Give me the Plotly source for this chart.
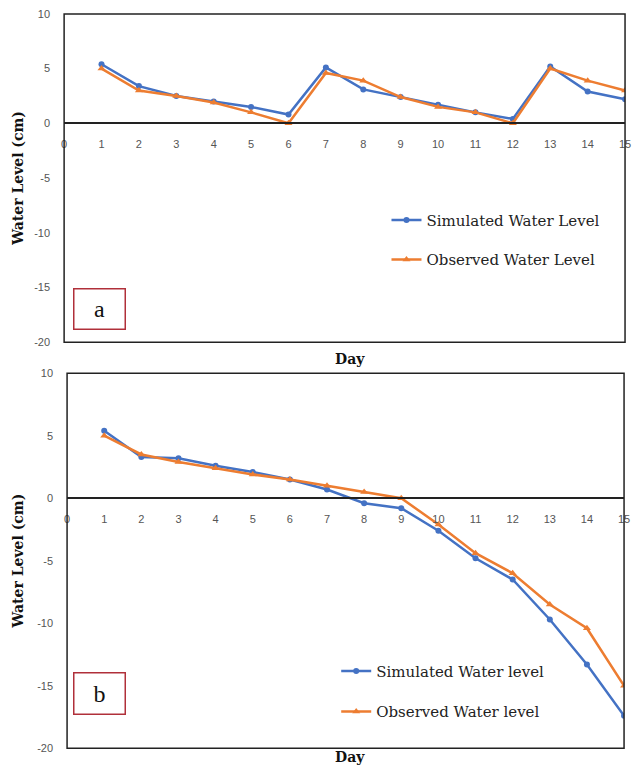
import plotly.graph_objects as go

days = list(range(1, 16))

sim_a = [5.4, 3.4, 2.5, 2.0, 1.5, 0.8, 5.1, 3.1, 2.4, 1.7, 1.0, 0.4, 5.2, 2.9, 2.2]
obs_a = [5.0, 3.0, 2.5, 1.9, 1.0, 0.0, 4.6, 3.9, 2.4, 1.5, 1.0, 0.0, 5.0, 3.9, 3.0]

sim_b = [5.4, 3.3, 3.2, 2.6, 2.1, 1.5, 0.7, -0.4, -0.8, -2.6, -4.8, -6.5, -9.7, -13.3, -17.4]
obs_b = [5.0, 3.5, 2.9, 2.4, 1.9, 1.5, 1.0, 0.5, 0.0, -2.1, -4.4, -6.0, -8.5, -10.4, -15.0]

names_a = ["Simulated Water Level", "Observed Water Level"]
names_b = ["Simulated Water level", "Observed Water level"]

x_ticks = list(range(0, 16))
y_ticks = [-20, -15, -10, -5, 0, 5, 10]

W, H = 634, 770
BLUE = "#4472C4"
ORANGE = "#ED7D31"
SERIF = "DejaVu Serif"
LSERIF = "Liberation Serif"
SANS = "Liberation Sans"


def px_x(p):
    return p / W


def px_y(p):
    return 1 - p / H


fig = go.Figure()

panels = [
    dict(x0=62, x1=631, y0=8, y1=341.5, xa="x", ya="y", sim=sim_a, obs=obs_a,
         names=names_a, legend="legend", letter="a", box=(72, 124, 287, 328), day=359),
    dict(x0=65, x1=630, y0=373, y1=754, xa="x2", ya="y2", sim=sim_b, obs=obs_b,
         names=names_b, legend="legend2", letter="b", box=(72, 124, 677, 719), day=763),
]

ymin, ymax = -20, 10

for i, p in enumerate(panels):
    fig.add_trace(go.Scatter(
        x=days, y=p["sim"], name=p["names"][0], mode="lines+markers",
        line=dict(color=BLUE, width=2.5), marker=dict(symbol="circle", size=6, color=BLUE),
        xaxis=p["xa"], yaxis=p["ya"], legend=p["legend"], legendgroup=f"s{i}"))
    fig.add_trace(go.Scatter(
        x=days, y=p["obs"], name=p["names"][1], mode="lines+markers",
        line=dict(color=ORANGE, width=2.5), marker=dict(symbol="triangle-up", size=7, color=ORANGE),
        xaxis=p["xa"], yaxis=p["ya"], legend=p["legend"], legendgroup=f"o{i}"))

layout = dict(
    width=W, height=H, margin=dict(l=0, r=0, t=0, b=0),
    paper_bgcolor="white", plot_bgcolor="white", showlegend=True,
)

shapes = []
annotations = []
for i, p in enumerate(panels):
    sfx = "" if i == 0 else "2"
    xd = [px_x(p["x0"]), px_x(p["x1"])]
    yd = [px_y(p["y1"]), px_y(p["y0"])]
    zero_pos = yd[0] + (0 - ymin) / (ymax - ymin) * (yd[1] - yd[0])
    layout["xaxis" + sfx] = dict(
        domain=xd, range=[0, 15], anchor="free", position=zero_pos,
        tickvals=x_ticks, ticktext=[str(v) for v in x_ticks],
        showline=True, linecolor="#222222", linewidth=1.5,
        showgrid=False, zeroline=False, ticks="", ticklabelstandoff=11,
        ticklabeloverflow="allow",
        tickfont=dict(family=SANS, size=11, color="#555555"), fixedrange=True,
    )
    layout["yaxis" + sfx] = dict(
        domain=yd, range=[ymin, ymax], anchor="x" + sfx,
        tickvals=y_ticks, ticktext=[str(v) for v in y_ticks],
        showline=False, showgrid=False, zeroline=False, ticks="", ticklabelstandoff=13,
        ticklabeloverflow="allow",
        tickfont=dict(family=SANS, size=11, color="#555555"), fixedrange=True,
    )
    shapes.append(dict(type="rect", xref="x" + sfx + " domain", yref="y" + sfx + " domain",
                       x0=0, x1=1, y0=0, y1=1, line=dict(color="#222222", width=1.5)))
    annotations.append(dict(
        text="<b>Water Level (cm)</b>", textangle=-90, xref="paper", yref="paper",
        x=px_x(15), y=(yd[0] + yd[1]) / 2, xanchor="center", yanchor="middle", showarrow=False,
        font=dict(family=SERIF, size=14, color="#111111")))
    annotations.append(dict(
        text="<b>Day</b>", xref="paper", yref="paper",
        x=px_x(352), y=px_y(p["day"]), xanchor="center", yanchor="middle", showarrow=False,
        font=dict(family=SERIF, size=14, color="#111111")))
    bx0, bx1, by0, by1 = p["box"]
    annotations.append(dict(
        text=p["letter"], xref="paper", yref="paper",
        x=px_x((bx0 + bx1) / 2), y=px_y((by0 + by1) / 2), xanchor="center", yanchor="middle",
        showarrow=False, width=bx1 - bx0 - 2, height=by1 - by0 - 2, borderpad=0,
        bordercolor="#B0303A", borderwidth=1.5, bgcolor="white",
        font=dict(family=LSERIF, size=24, color="#111111")))

layout["shapes"] = shapes
layout["annotations"] = annotations
legfont = dict(family=SERIF, size=15, color="#222222")
layout["legend"] = dict(x=px_x(389), y=px_y(201), xanchor="left", yanchor="top",
                        bgcolor="rgba(0,0,0,0)", font=legfont, tracegroupgap=17, itemclick=False)
layout["legend2"] = dict(x=px_x(338), y=px_y(659), xanchor="left", yanchor="top",
                         bgcolor="rgba(0,0,0,0)", font=legfont, tracegroupgap=18, itemclick=False)

fig.update_layout(**layout)
fig.write_html(
    "out.html",
    config={"displayModeBar": False},
    post_script="document.body.style.margin='0';document.body.style.overflow='hidden';",
)
